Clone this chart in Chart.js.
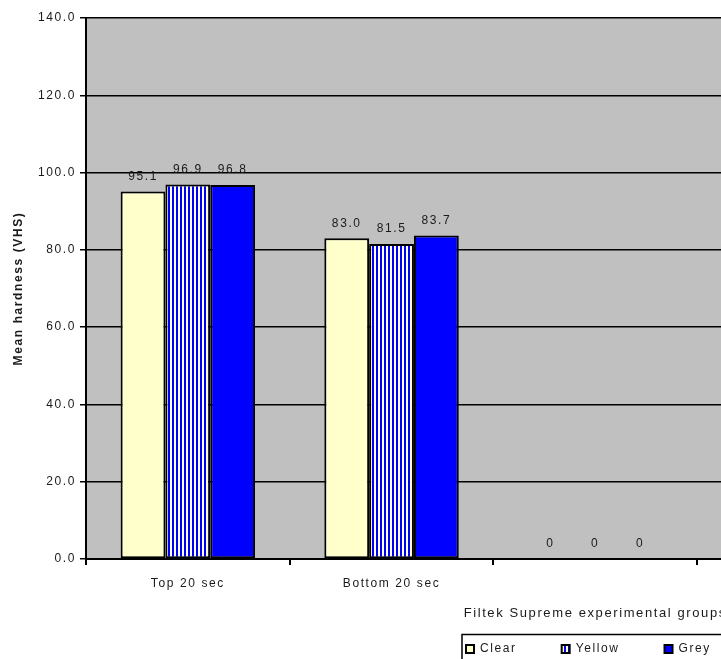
<!DOCTYPE html>
<html><head><meta charset="utf-8">
<script src="https://cdn.jsdelivr.net/npm/chart.js@4/dist/chart.umd.min.js"></script>
<style>
html,body{margin:0;padding:0;background:#fff;overflow:hidden;}
#wrap{width:721px;height:659px;overflow:hidden;position:relative;}
#c{position:absolute;left:0;top:0;}
</style></head><body>
<div id="wrap"><canvas id="c" width="1190" height="688"></canvas></div>
<script>
// ---- data ----
const categories = ['Top 20 sec', 'Bottom 20 sec', '', '', ''];
const seriesNames = ['Clear', 'Yellow', 'Grey'];
const clearValues = [95.1, 83.0, 0, null, null];
const yellowValues = [96.9, 81.5, 0, null, null];
const greyValues = [96.8, 83.7, 0, null, null];
const yAxisTitle = 'Mean hardness (VHS)';
const xAxisTitle = 'Filtek Supreme experimental groups';
const yMin = 0, yMax = 140, yStep = 20;

// ---- styling ----
const FONT = '"Liberation Sans", Arial, sans-serif';
const SPACING = '1.6px';
const TEXT = '#1a1a1a';
Chart.defaults.font.family = FONT;
Chart.defaults.font.size = 12;
Chart.defaults.color = TEXT;

const canvas = document.getElementById('c');
const ctx = canvas.getContext('2d');

function stripePattern() {
  const p = document.createElement('canvas');
  p.width = 4; p.height = 4;
  const g = p.getContext('2d');
  g.fillStyle = '#FFFFCC'; g.fillRect(0, 0, 4, 4);
  g.fillStyle = '#0000FF'; g.fillRect(0, 0, 2, 4);
  return ctx.createPattern(p, 'repeat');
}

const spacingPlugin = {
  id: 'spacing',
  beforeUpdate(c) { c.ctx.letterSpacing = SPACING; },
  beforeDraw(c) { c.ctx.letterSpacing = SPACING; }
};

const bgPlugin = {
  id: 'bg',
  beforeDraw(c) {
    const {ctx, chartArea: a} = c;
    ctx.save();
    ctx.fillStyle = '#fff';
    ctx.fillRect(0, 0, c.width, c.height);
    ctx.fillStyle = '#C0C0C0';
    ctx.fillRect(a.left, a.top, a.right - a.left, a.bottom - a.top);
    ctx.restore();
  }
};

const labelPlugin = {
  id: 'valueLabels',
  afterDatasetsDraw(c) {
    const ctx = c.ctx;
    ctx.save();
    ctx.font = '12px ' + FONT;
    ctx.fillStyle = TEXT;
    ctx.textAlign = 'center';
    ctx.textBaseline = 'middle';
    c.data.datasets.forEach((ds, i) => {
      c.getDatasetMeta(i).data.forEach((bar, j) => {
        const v = ds.data[j];
        if (v === null || v === undefined) return;
        const txt = v === 0 ? '0' : v.toFixed(1);
        ctx.fillText(txt, bar.x, bar.y - 15);
      });
    });
    ctx.restore();
  }
};

const legendPlacer = {
  id: 'legendPlacer',
  afterLayout(c) {
    const lg = c.legend;
    const p = lg.options.labels.padding;
    lg.left = 466 - p;
    lg.right = c.width;
    lg.top = 643 - p;
  },
  afterDraw(c) {
    const hb = c.legend.legendHitBoxes;
    if (!hb || !hb.length) return;
    const last = hb[hb.length - 1];
    const ctx = c.ctx;
    ctx.save();
    ctx.strokeStyle = '#000';
    ctx.lineWidth = 1.5;
    const l = Math.round(hb[0].left - 4);
    const r = Math.round(last.left + last.width + 24);
    ctx.strokeRect(l, 634.5, r - l, 40);
    ctx.restore();
  }
};

new Chart(ctx, {
  type: 'bar',
  data: {
    labels: categories,
    datasets: [
      {label: seriesNames[0], data: clearValues, backgroundColor: '#FFFFCC', borderColor: '#000', borderWidth: 2, borderSkipped: false},
      {label: seriesNames[1], data: yellowValues, backgroundColor: stripePattern(), borderColor: '#000', borderWidth: 2, borderSkipped: false},
      {label: seriesNames[2], data: greyValues, backgroundColor: '#0000FF', borderColor: '#000', borderWidth: 2, borderSkipped: false}
    ]
  },
  options: {
    responsive: false,
    animation: false,
    devicePixelRatio: 1,
    events: [],
    layout: {padding: {left: 0, top: 18, right: 85.5, bottom: 0}},
    datasets: {bar: {categoryPercentage: 0.66, barPercentage: 1}},
    scales: {
      x: {
        grid: {display: true, drawOnChartArea: false, drawTicks: true, tickLength: 6, color: '#000', lineWidth: 2, offset: true},
        border: {display: true, color: '#000', width: 2},
        ticks: {padding: 11, maxRotation: 0, autoSkip: false, font: {size: 12}, color: TEXT},
        title: {display: true, text: xAxisTitle, padding: {top: 7, bottom: 0}, font: {size: 13}, color: TEXT},
        afterFit(s) { s.height = 62; }
      },
      y: {
        min: yMin, max: yMax,
        ticks: {stepSize: yStep, callback: v => Number(v).toFixed(1), padding: 4, font: {size: 12}, color: TEXT},
        grid: {color: '#000', tickLength: 6, drawTicks: true, lineWidth: 1.5},
        border: {display: true, color: '#000', width: 2},
        title: {display: true, text: yAxisTitle, padding: {top: 11, bottom: 0}, font: {size: 12, weight: 'bold'}, color: TEXT},
        afterFit(s) { s.width = 86; }
      }
    },
    plugins: {
      legend: {
        position: 'bottom', align: 'start',
        labels: {boxWidth: 8, boxHeight: 8, padding: 45, font: {size: 12}, color: TEXT}
      },
      tooltip: {enabled: false}
    }
  },
  plugins: [spacingPlugin, bgPlugin, labelPlugin, legendPlacer]
});
</script>
</body></html>
